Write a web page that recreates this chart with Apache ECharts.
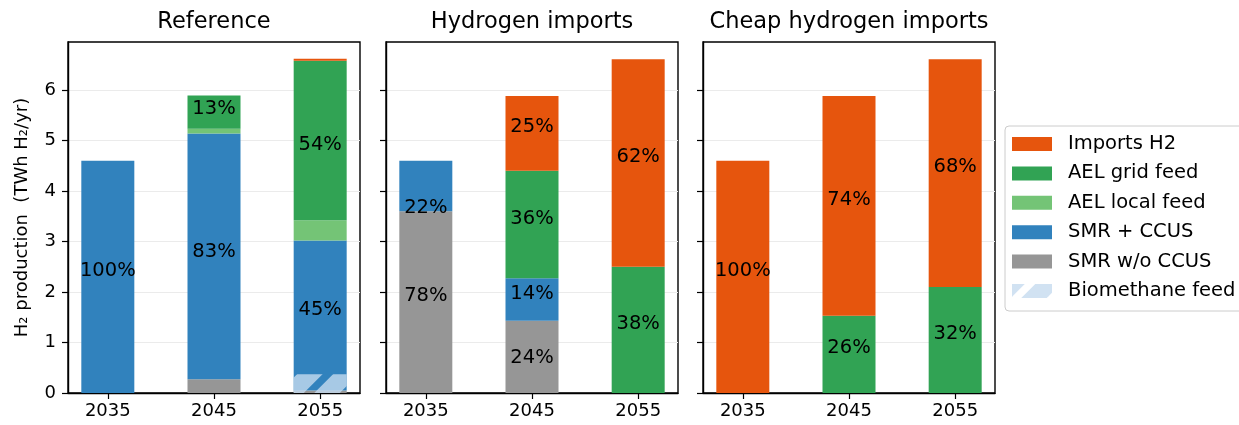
<!DOCTYPE html>
<html>
<head>
<meta charset="utf-8">
<script src="https://cdn.jsdelivr.net/npm/echarts@6/dist/echarts.min.js"></script>
<style>
  html, body { margin: 0; padding: 0; background: #fff; }
  #chart { width: 1239px; height: 425px; }
</style>
</head>
<body>
<div id="chart"></div>
<script>
// Hydrogen production by route, TWh H2 per year.
// Each array: one row per scenario, one column per year.
const years = ['2035', '2045', '2055'];
const scenarios = ['Reference', 'Hydrogen imports', 'Cheap hydrogen imports'];
const smrWoCcus  = [[0, 0.27, 0.05], [3.6, 1.43, 0],    [0, 0, 0]];
const smrCcus    = [[4.6, 4.87, 2.97], [1.0, 0.84, 0],  [0, 0, 0]];
const aelLocal   = [[0, 0.09, 0.40], [0, 0, 0],         [0, 0, 0]];
const aelGrid    = [[0, 0.66, 3.16], [0, 2.13, 2.5],    [0, 1.53, 2.1]];
const importsH2  = [[0, 0, 0.04],    [0, 1.48, 4.11],   [4.6, 4.35, 4.51]];
const biomethane = [[0, 0, 0.37],    [0, 0, 0],         [0, 0, 0]];
const yTicks = [0, 1, 2, 3, 4, 5, 6];
const legendOrder = ['Imports H2', 'AEL grid feed', 'AEL local feed', 'SMR + CCUS', 'SMR w/o CCUS', 'Biomethane feed'];

// ---- layout ----
const FONT = 'DejaVu Sans';
const gridLefts = [68, 386, 703];
const gridTop = 42, gridW = 292, gridH = 351;
const yMax = 6.95;
const pxPerUnit = gridH / yMax;
// 11 slots across each panel; years sit in slots 1, 5 and 9 so the
// outer margins are narrower than the spacing between bars
const SLOTS = 11;
const yearSlot = i => 1 + 4 * i;
const slotNames = Array.from({ length: SLOTS }, (_, k) => {
  const i = years.findIndex((_, j) => yearSlot(j) === k);
  return i >= 0 ? years[i] : '';
});

const layers = [
  { key: 'smrWo',    name: 'SMR w/o CCUS',   values: smrWoCcus, color: '#969696' },
  { key: 'smrCcus',  name: 'SMR + CCUS',     values: smrCcus,   color: '#3182bd' },
  { key: 'aelLocal', name: 'AEL local feed', values: aelLocal,  color: '#74c476' },
  { key: 'aelGrid',  name: 'AEL grid feed',  values: aelGrid,   color: '#31a354' },
  { key: 'imports',  name: 'Imports H2',     values: importsH2, color: '#e6550d' }
];

// extra vertical nudges (px) for a few labels that sit off-centre
const labelNudge = { '1|smrCcus|0': 28, '1|smrWo|1': 7, '0|smrCcus|1': 2 };

function totalOf(s, i) {
  return layers.reduce((a, l) => a + l.values[s][i], 0);
}

// diagonal hatch used for the biomethane-fed share
function hatchPattern() {
  const s = 36;
  const c = document.createElement('canvas');
  c.width = c.height = s;
  const ctx = c.getContext('2d');
  ctx.strokeStyle = 'rgba(198,219,239,0.8)';
  ctx.lineWidth = 18;
  for (const k of [-s, 0, s]) {
    ctx.beginPath();
    ctx.moveTo(k - s, 2 * s);
    ctx.lineTo(k + 2 * s, -s);
    ctx.stroke();
  }
  return c;
}
const hatch = { image: hatchPattern(), repeat: 'repeat' };

const grids = [], xAxes = [], yAxes = [], titles = [], series = [];

scenarios.forEach((scen, s) => {
  grids.push({
    left: gridLefts[s], top: gridTop, width: gridW, height: gridH,
    show: true, borderColor: '#000', borderWidth: 1.4, backgroundColor: 'transparent'
  });
  titles.push({
    text: scen, left: gridLefts[s] + gridW / 2, top: 11, padding: 0, textAlign: 'center',
    textStyle: { fontFamily: FONT, fontSize: 22.5, fontWeight: 'normal', color: '#000' }
  });
  xAxes.push({
    type: 'category', gridIndex: s, data: slotNames, boundaryGap: true,
    axisLine: { show: true, lineStyle: { color: '#000', width: 1.4 } },
    axisTick: { show: true, alignWithLabel: true, length: 6, interval: (i, v) => v !== '', lineStyle: { color: '#000', width: 1.2 } },
    axisLabel: { show: true, interval: (i, v) => v !== '', margin: 9, fontFamily: FONT, fontSize: 18, color: '#000' },
    splitLine: { show: false }
  });
  yAxes.push({
    type: 'value', gridIndex: s, min: 0, max: yMax, interval: 1,
    name: s === 0 ? 'H\u2082 production  (TWh H\u2082/yr)' : '',
    nameLocation: 'middle', nameGap: 37,
    nameTextStyle: { fontFamily: FONT, fontSize: 18, color: '#000' },
    axisLine: { show: true, lineStyle: { color: '#000', width: 1.4 } },
    axisTick: { show: true, length: 6, customValues: yTicks, lineStyle: { color: '#000', width: 1.2 } },
    axisLabel: {
      show: s === 0, margin: 12, fontFamily: FONT, fontSize: 18, color: '#000',
      customValues: yTicks
    },
    splitLine: { show: true, lineStyle: { color: '#ebebeb', width: 1 } }
  });

  layers.forEach(layer => {
    const data = slotNames.map((_, k) => {
      const i = years.findIndex((_, j) => yearSlot(j) === k);
      if (i < 0) return '-';
      const v = layer.values[s][i];
      const total = totalOf(s, i);
      let share = v;
      let offY = -6;
      if (layer.key === 'aelGrid') {
        // electrolysis label covers grid + local feed together
        share = v + aelLocal[s][i];
        offY += aelLocal[s][i] * pxPerUnit / 2;
      }
      const pct = total > 0 ? 100 * share / total : 0;
      const show = layer.key !== 'aelLocal' && pct >= 10;
      offY += labelNudge[s + '|' + layer.key + '|' + i] || 0;
      return {
        value: v,
        label: {
          show, position: 'inside', offset: [0, offY],
          formatter: Math.round(pct) + '%',
          fontFamily: FONT, fontSize: 19.5, color: '#000'
        }
      };
    });
    series.push({
      type: 'bar', name: layer.name, xAxisIndex: s, yAxisIndex: s,
      stack: 'h2-' + s, barWidth: 53, barGap: '-100%',
      itemStyle: { color: layer.color },
      emphasis: { disabled: true },
      data
    });
  });

  series.push({
    type: 'bar', name: 'Biomethane feed', xAxisIndex: s, yAxisIndex: s,
    stack: 'bio-' + s, barWidth: 53, barGap: '-100%',
    itemStyle: { color: hatch },
    emphasis: { disabled: true },
    data: slotNames.map((_, k) => {
      const i = years.findIndex((_, j) => yearSlot(j) === k);
      return i < 0 ? '-' : biomethane[s][i];
    })
  });
});

const chart = echarts.init(document.getElementById('chart'), null, { renderer: 'canvas' });
chart.setOption({
  animation: false,
  backgroundColor: '#fff',
  title: titles,
  grid: grids,
  xAxis: xAxes,
  yAxis: yAxes,
  legend: {
    data: legendOrder,
    orient: 'vertical', left: 1005, top: 126,
    icon: 'rect', itemWidth: 40, itemHeight: 14, itemGap: 9.4,
    padding: [8, 8, 10, 7],
    borderColor: '#cccccc', borderWidth: 1, borderRadius: 4,
    selectedMode: false,
    textStyle: { fontFamily: FONT, fontSize: 19.5, color: '#000', lineHeight: 18.5, padding: [0, 0, 0, 11] }
  },
  series
});
</script>
</body>
</html>
